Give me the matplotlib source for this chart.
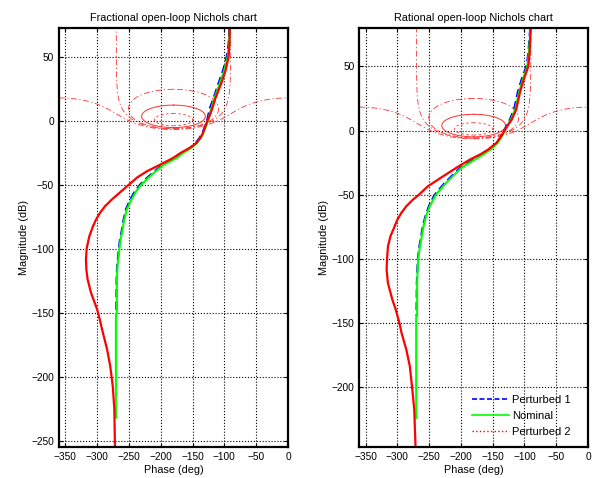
import numpy as np
import matplotlib.pyplot as plt
from matplotlib.lines import Line2D

plt.rcParams['font.family'] = ['Liberation Sans', 'DejaVu Sans']

# Fractional open-loop (left panel), magnitude in dB vs phase in deg
frac_p2_mag = [73, 60, 50, 40, 30, 20, 16.8, 10, 4, 0,
               -4, -9.2, -13.1, -17, -19.7, -22.3, -24.8, -28.8, -34, -39.2,
               -44, -49.6, -56.1, -61.3, -66.5, -71.7, -77, -82.2, -90, -99.6,
               -108.2, -116, -123.8, -134.2, -147.3, -155, -165.5, -178.5, -191.5, -207.2,
               -225, -255]
frac_p2_phase = [-91.5, -92, -93.5, -98, -104.6, -112.5, -115, -119, -123.5, -127,
                 -129.8, -133.6, -137.7, -144, -150.9, -159.8, -168.8, -180.9, -201, -222,
                 -237, -250, -265, -277, -287.6, -295.5, -301.8, -306.5, -312.3, -316.5,
                 -317.6, -317, -315, -309.7, -300, -296, -291, -284.4, -279.5, -275.5,
                 -273, -272]
frac_nom_mag = [73, 60, 50, 40, 30, 16.8, 10, 0, -4, -9.2, -13, -17, -21, -24.8, -28.8, -34,
                -39.2, -44, -49.6, -55, -61.3, -68.5, -77, -84.8, -92, -100, -113, -124, -150, -151, -232]
frac_nom_phase = [-91.5, -92.5, -95, -100, -107, -116.5, -120.5, -126, -129, -133, -137.5, -143, -152, -165, -175, -195,
                  -208, -219, -230.5, -239, -246, -253, -257.5, -260, -263, -265, -268, -269, -269, -270.5, -270.5]
frac_p1_mag = [73, 60, 50, 40, 30, 16.8, 10, 0, -4, -9.2, -13, -17, -21, -24.8, -28.8, -34,
               -39.2, -44, -49.6, -55, -61.3, -68.5, -77, -84.8, -92, -100, -113, -124, -151]
frac_p1_phase = [-92, -93.5, -96.5, -102, -109, -118, -123, -127.5, -130.5, -134.5, -139, -145, -154, -167, -177, -197,
                 -210, -221, -232.5, -241, -248, -254.5, -258.5, -261, -264, -266, -268.5, -269.5, -270]

# Rational open-loop (right panel)
rat_p2_mag = [80, 60, 50, 40, 30, 16.4, 8.6, 0.4, -4, -9.6,
              -14.8, -18.75, -22.7, -29, -35.7, -43.5, -50.5, -53.9, -59.1, -64.3,
              -69.5, -74.7, -82.6, -90.4, -100.8, -108.6, -119, -132, -140, -150,
              -158, -171, -184, -200, -218, -247]
rat_p2_phase = [-90, -92, -94, -101, -107, -113, -120, -131, -136, -144,
                -157, -170, -186, -207, -228, -252, -267, -275.5, -286, -293.8,
                -300, -304.3, -311, -314.9, -316.4, -317, -315, -308, -302.5, -297,
                -293.5, -286, -280.5, -277, -273.5, -271.5]
rat_nom_mag = [80, 60, 50, 40, 30, 16.4, 8.6, 0.4, -4, -9.6, -14.8, -18.75, -22.7, -29,
               -35.7, -42, -50.5, -59, -67, -74.7, -85, -90.4, -100.8, -119, -145, -146, -224.5]
rat_nom_phase = [-90.5, -93, -95.5, -102.5, -108.5, -114.5, -121.5, -130.5, -135, -142, -153, -165, -178, -199,
                 -213, -225.5, -240, -249, -255, -259, -262.5, -264.5, -267.5, -269, -269, -270.5, -270.5]
rat_p1_mag = [80, 60, 50, 40, 30, 16.4, 8.6, 0.4, -4, -9.6, -14.8, -18.75, -22.7, -29,
              -35.7, -42, -50.5, -59, -67, -74.7, -85, -90.4, -100.8, -119, -145]
rat_p1_phase = [-91, -94, -97, -104.5, -110.5, -116.5, -123, -131.5, -136, -143.5, -155, -167, -180.5, -201,
                -215, -227.5, -242, -250.5, -256, -260, -263.5, -265.5, -268, -269.5, -270]

# closed-loop gain contours (dB) of the Nichols grid
dashdot_levels = [0.5, 0, -1]
mr_level = 2.3
inner_level = 6

x_ticks = [-350, -300, -250, -200, -150, -100, -50, 0]


def contour(m_db):
    # closed loop T = M e^{j theta}  ->  open loop L = T / (1 - T)
    theta = np.concatenate([np.linspace(-np.pi, -1e-5, 3000), [np.nan],
                            np.linspace(1e-5, np.pi, 3000)])
    T = 10 ** (m_db / 20.0) * np.exp(1j * theta)
    L = T / (1 - T)
    mag = 20 * np.log10(np.abs(L))
    ph = np.mod(np.degrees(np.angle(L)), 360) - 360
    jumps = np.where(np.abs(np.diff(ph)) > 180)[0] + 1
    ph = np.insert(ph, jumps, np.nan)
    mag = np.insert(mag, jumps, np.nan)
    return ph, mag


def draw_panel(ax, title, p1, nom, p2, ylim, yticks):
    gc = '#ff3030'
    for lev in dashdot_levels:
        ph, mg = contour(lev)
        ax.plot(ph, mg, color=gc, lw=0.6, dashes=(7, 3, 1.5, 3))
    ph, mg = contour(mr_level)
    ax.plot(ph, mg, color=gc, lw=0.7)
    ph, mg = contour(inner_level)
    ax.plot(ph, mg, color=gc, lw=0.6, dashes=(3, 3))

    ax.plot(p1[0], p1[1], color='#0000ff', lw=1.5, ls='--', dashes=(4, 2))
    ax.plot(nom[0], nom[1], color='#00ff00', lw=1.5)
    ax.plot(p2[0], p2[1], color='#ff0000', lw=1.6)

    ax.set_xlim(-360, 0)
    ax.set_ylim(*ylim)
    ax.set_xticks(x_ticks)
    ax.set_yticks(yticks)
    ax.grid(True, color='black', ls=':', lw=0.8)
    ax.tick_params(direction='in', length=3, labelsize=7.3, top=True, right=True)
    for s in ax.spines.values():
        s.set_linewidth(1.6)
    ax.set_title(title, fontsize=7.8, pad=5)
    ax.set_xlabel('Phase (deg)', fontsize=7.8, labelpad=2)
    ax.set_ylabel('Magnitude (dB)', fontsize=7.8, labelpad=2)


fig = plt.figure(figsize=(5.94, 4.78), dpi=100)
ax1 = fig.add_axes([0.0993, 0.0649, 0.3855, 0.8765])
ax2 = fig.add_axes([0.6049, 0.0649, 0.3850, 0.8765])

draw_panel(ax1, 'Fractional open-loop Nichols chart',
           (frac_p1_phase, frac_p1_mag), (frac_nom_phase, frac_nom_mag), (frac_p2_phase, frac_p2_mag),
           (-255, 73), [-250, -200, -150, -100, -50, 0, 50])
draw_panel(ax2, 'Rational open-loop Nichols chart',
           (rat_p1_phase, rat_p1_mag), (rat_nom_phase, rat_nom_mag), (rat_p2_phase, rat_p2_mag),
           (-247, 80), [-200, -150, -100, -50, 0, 50])

handles = [Line2D([], [], color='#0000ff', lw=1.2, ls='--', dashes=(3, 1.5)),
           Line2D([], [], color='#00ff00', lw=1.2),
           Line2D([], [], color='#ff0000', lw=1.0, ls=':')]
ax2.legend(handles, ['Perturbed 1', 'Nominal', 'Perturbed 2'], loc='lower left',
           bbox_to_anchor=(0.45, 0.0), frameon=False, fontsize=8,
           handlelength=3.3, handletextpad=0.3, labelspacing=0.55)

fig.savefig('out.png', dpi=100)
